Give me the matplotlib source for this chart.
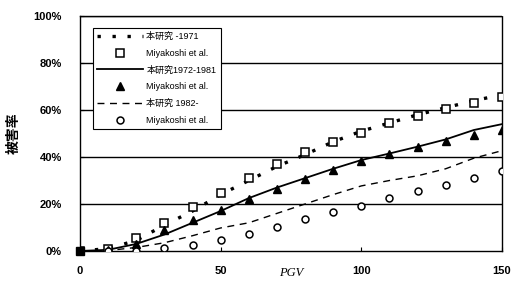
import matplotlib
matplotlib.use("Agg")
import matplotlib.pyplot as plt
import matplotlib.transforms as mtransforms

plt.rcParams['font.family'] = ['Liberation Sans', 'Noto Sans CJK JP', 'DejaVu Sans']

# PGV values (x) and damage ratios (%)
pgv = [0, 10, 20, 30, 40, 50, 60, 70, 80, 90, 100, 110, 120, 130, 140, 150]

# fitted curves from this study
curve_1971 = [0, 1.0, 4.5, 11, 17, 24, 30, 36, 41, 46.5, 51, 54.5, 58, 61, 64, 66.5]
curve_1972_1981 = [0, 0.5, 3, 7, 12, 17, 22.5, 27, 31, 35, 38.7, 41.5, 44.4, 47.5, 51.5, 54]
curve_1982 = [0, 0.2, 1.5, 3.5, 6.5, 9.8, 12, 16, 20, 24, 27.7, 30, 32, 35, 39.5, 42.7]

# Miyakoshi et al. observed values
miya_sq = [0, 0.8, 5.5, 12, 18.7, 24.8, 31, 37, 42.3, 46.4, 50.2, 54.5, 57.4, 60.4, 63, 65.7]
miya_tri = [0, 0.5, 3, 9, 13, 17.4, 22, 26.4, 30.6, 34.5, 38.4, 41.3, 44.4, 47, 49.4, 51.5]
miya_circ = [0, 0, 0, 1.2, 2.6, 4.7, 7.2, 10.2, 13.6, 16.6, 19.3, 22.7, 25.7, 28, 31.2, 34]

ytick_vals = [0, 20, 40, 60, 80, 100]
ytick_labels = ['0%', '20%', '40%', '60%', '80%', '100%']
xtick_vals = [0, 50, 100, 150]

fig = plt.figure(figsize=(5.14, 2.82), dpi=100)
ax = fig.add_axes([0.1556, 0.11, 0.821, 0.833])

for y in ytick_vals[1:]:
    ax.axhline(y, color='black', lw=1.0, zorder=1)

ax.plot(pgv, curve_1971, color='black', lw=2.4, linestyle=(0, (1, 3.5)),
        label='本研究 -1971', zorder=3)
ax.plot(pgv, miya_sq, 's', mfc='white', mec='black', mew=1.1, ms=6,
        linestyle='none', label='Miyakoshi et al.', zorder=4)
ax.plot(pgv, curve_1972_1981, color='black', lw=1.3, label='本研究1972-1981', zorder=3)
ax.plot(pgv, miya_tri, '^', color='black', ms=6, linestyle='none',
        label='Miyakoshi et al.', zorder=4)
ax.plot(pgv, curve_1982, color='black', lw=1.0, linestyle=(0, (5, 4)),
        label='本研究 1982-', zorder=3)
ax.plot(pgv, miya_circ, 'o', mfc='white', mec='black', mew=1.1, ms=5,
        linestyle='none', label='Miyakoshi et al.', zorder=4)
ax.plot(pgv[0], miya_sq[0], 's', color='black', ms=6, zorder=5, clip_on=False)

ax.set_xlim(0, 150)
ax.set_ylim(0, 100)
ax.set_yticks(ytick_vals)
ax.set_yticklabels(ytick_labels, fontsize=8, fontweight='bold')
ax.set_xticks(xtick_vals)
ax.set_xticklabels([str(v) for v in xtick_vals], fontsize=8, fontweight='bold')
ax.tick_params(direction='in', length=3, width=0.8, pad=11)
ax.tick_params(axis='y', pad=13)
for s in ax.spines.values():
    s.set_linewidth(1.0)
ax.spines['top'].set_linestyle((0, (1, 1)))
ax.spines['right'].set_linestyle((0, (1, 1)))

ax.set_ylabel('被害率', family=['Noto Sans CJK JP'], fontsize=10, fontweight='bold')
ax.yaxis.set_label_coords(-0.14, 0.5)

trans = mtransforms.blended_transform_factory(ax.transData, ax.transAxes)
ax.text(75, -0.095, 'PGV', transform=trans, ha='center', va='center',
        fontsize=9, style='italic', family='Liberation Serif')

leg = ax.legend(loc='upper left', bbox_to_anchor=(0.02, 0.97),
                prop={'family': ['Liberation Sans', 'Noto Sans CJK JP'], 'size': 6.5},
                frameon=True, fancybox=False, edgecolor='black', framealpha=1,
                handlelength=5.0, labelspacing=0.85, borderpad=0.5, handletextpad=0.4)
leg.get_frame().set_linewidth(0.8)

fig.savefig('out.png', dpi=100)
